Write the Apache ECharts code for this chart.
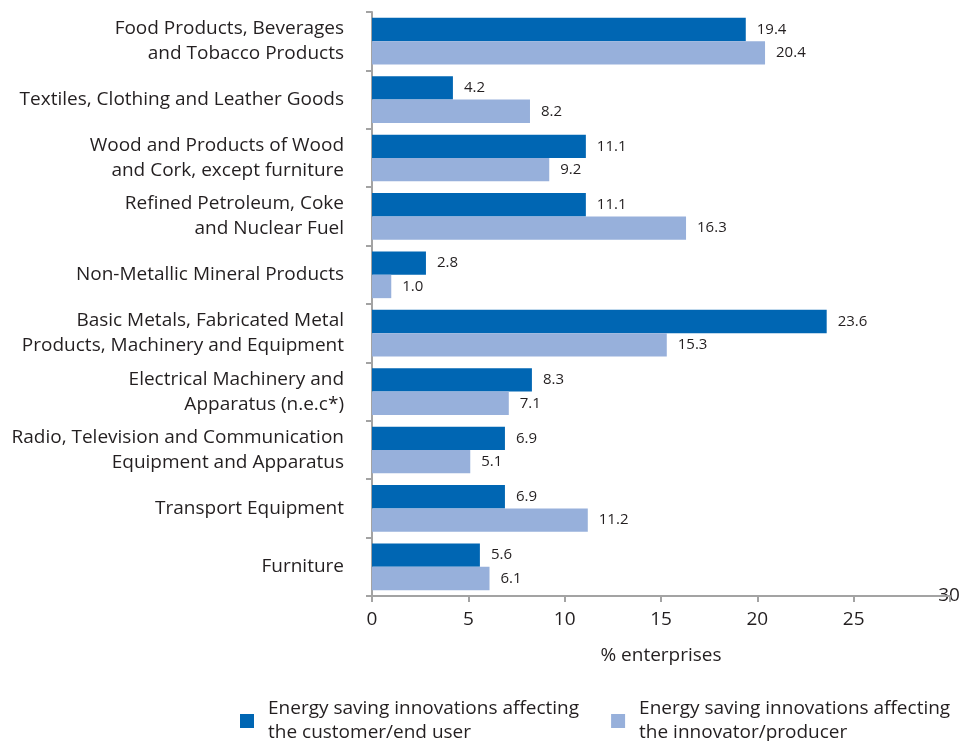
<!DOCTYPE html>
<html><head><meta charset="utf-8">
<script src="https://cdn.jsdelivr.net/npm/echarts@6/dist/echarts.min.js"></script>
<style>html,body{margin:0;padding:0;background:#fff}#c{width:974px;height:741px}</style>
</head><body><div id="c"></div>
<script>
var categories = [
  "Food Products, Beverages\nand Tobacco Products",
  "Textiles, Clothing and Leather Goods",
  "Wood and Products of Wood\nand Cork, except furniture",
  "Refined Petroleum, Coke\nand Nuclear Fuel",
  "Non-Metallic Mineral Products",
  "Basic Metals, Fabricated Metal\nProducts, Machinery and Equipment",
  "Electrical Machinery and\nApparatus (n.e.c*)",
  "Radio, Television and Communication\nEquipment and Apparatus",
  "Transport Equipment",
  "Furniture"
];
var customerValues = [19.4, 4.2, 11.1, 11.1, 2.8, 23.6, 8.3, 6.9, 6.9, 5.6];
var producerValues = [20.4, 8.2, 9.2, 16.3, 1.0, 15.3, 7.1, 5.1, 11.2, 6.1];
var seriesNames = ["Energy saving innovations affecting\nthe customer/end user", "Energy saving innovations affecting\nthe innovator/producer"];
var xTicks = [0, 5, 10, 15, 20, 25, 30];

var FONT = "'Open Sans', 'Noto Sans', sans-serif";
var TXT = "#231f20";
var AX = "#a3a3a3";
var chart = echarts.init(document.getElementById('c'));
var option = {
  animation: false,
  textStyle: {fontFamily: FONT, color: TXT},
  grid: {left: 372, right: 24, top: 12, bottom: 145, containLabel: false},
  xAxis: {
    type: 'value', min: xTicks[0], max: xTicks[xTicks.length-1], interval: 5,
    name: '% enterprises', nameLocation: 'middle', nameGap: 50,
    nameTextStyle: {fontFamily: FONT, fontSize: 19, color: TXT},
    axisLine: {show: true, lineStyle: {color: AX, width: 2}},
    axisTick: {show: true, length: 6, lineStyle: {color: AX, width: 2}},
    axisLabel: {fontFamily: FONT, fontSize: 19, color: TXT, margin: 14,
      formatter: function (v) { return v === 30 ? '' : String(v); }},
    splitLine: {show: false}
  },
  yAxis: {
    type: 'category', data: categories, inverse: true,
    axisLine: {show: true, lineStyle: {color: AX, width: 2}},
    axisTick: {show: true, length: 6, lineStyle: {color: AX, width: 2}},
    axisLabel: {fontFamily: FONT, fontSize: 19, color: TXT, margin: 28, align: 'right', lineHeight: 25}
  },
  legend: {
    bottom: -9, left: 235, itemWidth: 14, itemHeight: 14, itemGap: 32,
    icon: 'rect',
    textStyle: {fontFamily: FONT, fontSize: 19, color: TXT, lineHeight: 24, padding: [0, 0, 0, 9]},
    data: seriesNames
  },
  series: [
    {name: seriesNames[0], type: 'bar', data: customerValues, barGap: '0%', barCategoryGap: '20%',
     itemStyle: {color: '#0066b3'},
     label: {show: true, position: 'right', distance: 11, fontFamily: FONT, fontSize: 15, color: TXT,
       formatter: function (p) { return p.value.toFixed(1); }}},
    {name: seriesNames[1], type: 'bar', data: producerValues,
     itemStyle: {color: '#97b0db'},
     label: {show: true, position: 'right', distance: 11, fontFamily: FONT, fontSize: 15, color: TXT,
       formatter: function (p) { return p.value.toFixed(1); }}}
  ]
};
chart.setOption(option);
var pt = chart.convertToPixel({xAxisIndex: 0}, xTicks[xTicks.length-1]);
var yb = 741 - 145;
chart.setOption({graphic: [{type: 'text', x: pt - 1, y: yb, style: {text: '30', fontFamily: FONT, fontSize: 19, fill: TXT, align: 'center', verticalAlign: 'middle'}}]});
</script></body></html>
